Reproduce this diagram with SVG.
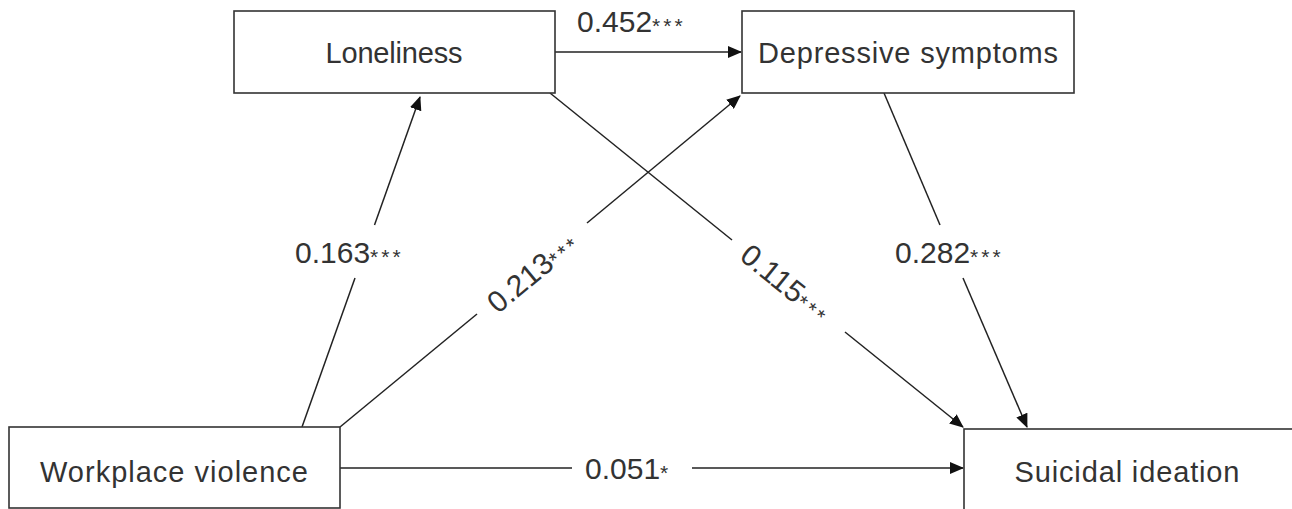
<svg xmlns="http://www.w3.org/2000/svg" width="1292" height="509" viewBox="0 0 1292 509">
<defs>
<style>
.box{fill:#fff;stroke:#333;stroke-width:1.6}
.nt{font-family:"Liberation Sans",Arial,sans-serif;font-size:29px;fill:#333;text-anchor:middle}
.lb{font-family:"Liberation Sans",Arial,sans-serif;font-size:30px;fill:#333}
.st{font-size:21px;letter-spacing:3px}
.ln{stroke:#222;stroke-width:1.5;fill:none}
</style>
<marker id="ah" markerUnits="userSpaceOnUse" markerWidth="14" markerHeight="12" refX="13" refY="6" orient="auto">
<path d="M0,0 L14,6 L0,12 Z" fill="#111"/>
</marker>
</defs>
<rect width="1292" height="509" fill="#fff"/>
<g id="connectors">
<line class="ln" x1="555" y1="52" x2="741" y2="52" marker-end="url(#ah)"/>
<line class="ln" x1="302" y1="427" x2="355" y2="278"/>
<line class="ln" x1="374.5" y1="225" x2="420" y2="97" marker-end="url(#ah)"/>
<line class="ln" x1="340" y1="427" x2="477" y2="314"/>
<line class="ln" x1="587" y1="223" x2="740" y2="96" marker-end="url(#ah)"/>
<line class="ln" x1="550" y1="93" x2="732" y2="240"/>
<line class="ln" x1="845" y1="332" x2="963" y2="427" marker-end="url(#ah)"/>
<line class="ln" x1="884" y1="93" x2="940" y2="225"/>
<line class="ln" x1="963" y1="278" x2="1027" y2="427" marker-end="url(#ah)"/>
<line class="ln" x1="340" y1="468" x2="572" y2="468"/>
<line class="ln" x1="692" y1="468" x2="963" y2="468" marker-end="url(#ah)"/>
<text class="lb" x="577" y="32">0.452<tspan class="st" dy="1">***</tspan></text>
<text class="lb" x="295" y="263">0.163<tspan class="st" dy="1">***</tspan></text>
<text class="lb" x="895" y="263">0.282<tspan class="st" dy="1">***</tspan></text>
<text class="lb" x="585" y="479">0.051<tspan class="st" dy="1">*</tspan></text>
<text class="lb" transform="translate(532,268) rotate(-39.6)" x="-56" y="14">0.213<tspan class="st" dy="1">***</tspan></text>
<text class="lb" transform="translate(788,286) rotate(38.9)" x="-56" y="10">0.115<tspan class="st" dy="1">***</tspan></text>
</g>
<g id="loneliness">
<rect class="box" x="234" y="11" width="321" height="82"/>
<text class="nt" x="394" y="63" textLength="137">Loneliness</text>
</g>
<g id="depressive">
<rect class="box" x="742" y="11" width="332" height="82"/>
<text class="nt" x="908" y="63" textLength="300">Depressive symptoms</text>
</g>
<g id="workplace">
<rect class="box" x="9" y="427" width="331" height="81"/>
<text class="nt" x="174" y="482" textLength="268">Workplace violence</text>
</g>
<g id="suicidal">
<rect class="box" x="964" y="429" width="340" height="100"/>
<text class="nt" x="1127" y="482" textLength="225">Suicidal ideation</text>
</g>
</svg>
